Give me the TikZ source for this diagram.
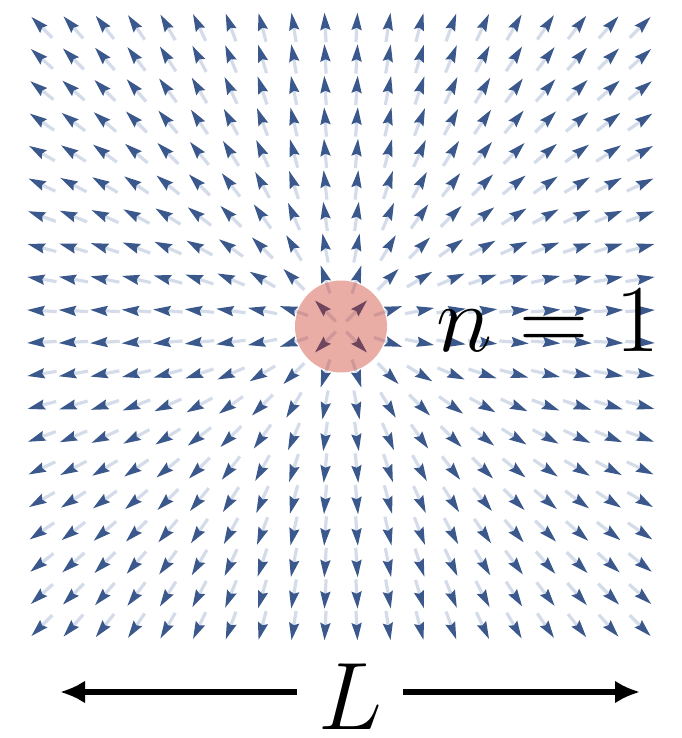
\documentclass[tikz,border=0pt]{standalone}
\usetikzlibrary{arrows.meta}
\definecolor{headblue}{RGB}{58,88,140}
\definecolor{tailblue}{RGB}{212,220,234}
\definecolor{spot}{RGB}{200,40,20}

\begin{document}
\begin{tikzpicture}[x=0.5pt,y=0.5pt,
	arrhead/.style={fill=headblue},
	arrtail/.style={draw=tailblue,line width=1.6pt},
	bigtext/.style={font=\Huge,scale=1.929,inner sep=0pt},
	lenline/.style={line width=3pt,-{Latex[length=12.5pt,width=11.5pt]}}]
			\useasboundingbox (0,0) rectangle (681,738);
			% field, centre at (341,411.5)
			\foreach \i in {0,...,19}
			\foreach \j in {0,...,19}{
				\pgfmathsetmacro{\px}{341+(\i-9.5)*31.5}
				\pgfmathsetmacro{\py}{411.5+(\j-9.5)*31.5}
				\pgfmathsetmacro{\ang}{atan2((\j-9.5),(\i-9.5))}
				\begin{scope}[shift={(\px,\py)},rotate=\ang]
				\draw[arrtail] (-15,0)--(0,0);
				\fill[arrhead] (14.5,0)--(-3,5.2)--(-0.5,0)--(-3,-5.2)--cycle;
				\end{scope}
			}
			\fill[spot,fill opacity=0.38] (341,411.5) circle (46);
			
			\node[bigtext,anchor=base west] (nlab) at (436,386) {$n=1$};
			\node[bigtext,text height=19.2pt,minimum width=27.2pt] (llab) at (350,46) {$L$};
			\coordinate (lend) at (60,46);
			\coordinate (rend) at (640,46);
			\draw[lenline] (llab.west)--(lend);
			\draw[lenline] (llab.east)--(rend);
\end{tikzpicture}
\end{document}
